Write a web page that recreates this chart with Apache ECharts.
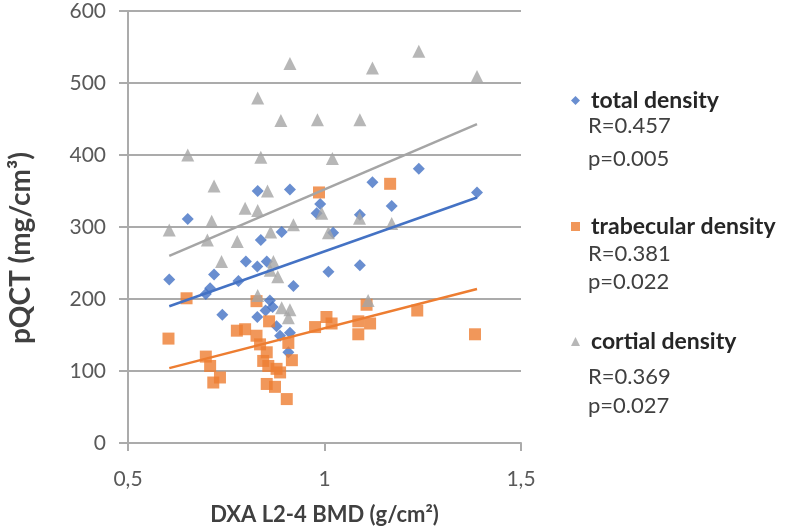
<!DOCTYPE html>
<html>
<head>
<meta charset="utf-8">
<script src="https://cdn.jsdelivr.net/npm/echarts@6/dist/echarts.min.js"></script>
<style>
  html, body { margin: 0; padding: 0; background: #fff; }
  #chart { width: 787px; height: 531px; }
</style>
</head>
<body>
<div id="chart"></div>
<script>
// total density (blue diamonds)
const totalX = [0.605, 0.652, 0.698, 0.709, 0.719, 0.740, 0.781, 0.800, 0.830, 0.829, 0.838, 0.829, 0.853, 0.861, 0.868, 0.850, 0.878,
  0.891, 0.887, 0.912, 0.921, 0.912, 0.908, 0.989, 0.980, 1.010, 1.022, 1.090, 1.090, 1.122, 1.171, 1.240, 1.388];
const totalY = [227, 311, 207, 215, 234, 178, 225, 252, 350, 245, 282, 175, 252, 198, 189, 184, 162,
  293, 149, 352, 218, 153, 126, 332, 319, 238, 292, 247, 317, 362, 329, 381, 348];

// trabecular density (orange squares)
const trabX = [0.603, 0.649, 0.698, 0.709, 0.717, 0.734, 0.777, 0.798, 0.827, 0.827, 0.836, 0.844, 0.853, 0.857, 0.853, 0.859, 0.874,
  0.878, 0.887, 0.904, 0.908, 0.917, 0.976, 1.005, 1.018, 0.986, 1.086, 1.086, 1.116, 1.107, 1.167, 1.236, 1.383];
const trabY = [145, 201, 120, 107, 84, 91, 156, 158, 197, 149, 137, 114, 126, 107, 82, 169, 78,
  103, 98, 61, 139, 115, 161, 175, 166, 348, 169, 151, 166, 192, 360, 184, 151];

// cortial density (gray triangles)
const cortX = [0.605, 0.652, 0.702, 0.713, 0.719, 0.738, 0.778, 0.798, 0.830, 0.830, 0.838, 0.855, 0.862, 0.863, 0.870, 0.881, 0.830,
  0.891, 0.912, 0.908, 0.889, 0.912, 0.921, 0.982, 0.993, 1.020, 1.010, 1.090, 1.089, 1.111, 1.122, 1.171, 1.240, 1.388];
const cortY = [296, 400, 282, 308, 357, 252, 280, 326, 323, 479, 397, 350, 240, 293, 252, 231, 205,
  188, 185, 174, 448, 527, 303, 449, 319, 395, 292, 449, 312, 198, 521, 305, 544, 509];

// trend line end points
const trendX = [0.605, 1.388];
const totalTrend = [190, 341];
const trabTrend = [104, 214];
const cortTrend = [260, 443];

const seriesNames = ['total density', 'trabecular density', 'cortial density'];
const statLines = [['R=0.457', 'p=0.005'], ['R=0.381', 'p=0.022'], ['R=0.369', 'p=0.027']];
const colors = ['#4472C4', '#ED7D31', '#A5A5A5'];

const pairs = (xs, ys) => xs.map((x, i) => [x, ys[i]]);

const chart = echarts.init(document.getElementById('chart'));

const FONT = 'Lato, "Open Sans", sans-serif';
const gridColor = '#ababab';

// one legend per series so the R / p lines can sit under each name
const legendTops = [99, 225, 340];
const legendIcons = ['diamond', 'rect', 'triangle'];
const legends = seriesNames.map((name, i) => ({
  left: 566,
  top: legendTops[i] - 15,
  itemWidth: 9,
  itemHeight: 9,
  selectedMode: false,
  data: [{ name: name, icon: legendIcons[i] }],
  textStyle: { fontFamily: FONT, fontSize: 23, fontWeight: 'bold', color: '#262626', padding: [0, 0, 0, 6] }
}));

const statTops = [[127, 160], [255, 283], [378, 407]];
const statTexts = [];
statLines.forEach((lines, i) => {
  lines.forEach((t, j) => {
    statTexts.push({
      type: 'text',
      left: 588,
      top: statTops[i][j] - 12,
      style: { text: t, fontFamily: FONT, fontSize: 22, fill: '#404040' }
    });
  });
});

const option = {
  animation: false,
  backgroundColor: '#fff',
  grid: { left: 128, top: 11, width: 393, height: 435 },
  legend: legends,
  xAxis: {
    type: 'value',
    min: 0.5,
    max: 1.5,
    interval: 0.5,
    name: 'DXA L2-4 BMD (g/cm²)',
    nameLocation: 'middle',
    nameGap: 61,
    nameTextStyle: { fontFamily: FONT, fontSize: 22, fontWeight: 'bold', color: '#404040' },
    axisLine: { show: true, lineStyle: { color: gridColor, width: 2 } },
    axisTick: { show: true, length: 8, lineStyle: { color: gridColor, width: 2 } },
    axisLabel: {
      margin: 26,
      fontFamily: FONT, fontSize: 21, color: '#595959',
      formatter: v => String(v).replace('.', ',')
    },
    splitLine: { show: false }
  },
  yAxis: {
    type: 'value',
    min: 0,
    max: 600,
    interval: 100,
    axisLine: { show: true, lineStyle: { color: gridColor, width: 2 } },
    axisTick: { show: true, length: 9, lineStyle: { color: gridColor, width: 2 } },
    axisLabel: { margin: 22, fontFamily: FONT, fontSize: 21, color: '#595959' },
    splitLine: { show: true, lineStyle: { color: gridColor, width: 2 } }
  },
  graphic: [
    {
      type: 'text',
      x: 21,
      y: 248,
      rotation: Math.PI / 2,
      style: {
        text: 'pQCT (mg/cm³)',
        fontFamily: FONT, fontSize: 28, fontWeight: 'bold', fill: '#404040',
        textAlign: 'center', textVerticalAlign: 'middle'
      }
    }
  ].concat(statTexts),
  series: [
    {
      name: seriesNames[0], type: 'scatter', symbol: 'diamond', symbolSize: 12,
      itemStyle: { color: colors[0] }, data: pairs(totalX, totalY), z: 2
    },
    {
      name: seriesNames[1], type: 'scatter', symbol: 'rect', symbolSize: 12,
      itemStyle: { color: colors[1] }, data: pairs(trabX, trabY), z: 3
    },
    {
      name: seriesNames[2], type: 'scatter', symbol: 'triangle', symbolSize: 13,
      itemStyle: { color: colors[2] }, data: pairs(cortX, cortY), z: 4
    },
    {
      type: 'line', symbol: 'none', data: pairs(trendX, totalTrend), z: 5,
      lineStyle: { color: colors[0], width: 2.5 }, silent: true
    },
    {
      type: 'line', symbol: 'none', data: pairs(trendX, trabTrend), z: 5,
      lineStyle: { color: colors[1], width: 2.5 }, silent: true
    },
    {
      type: 'line', symbol: 'none', data: pairs(trendX, cortTrend), z: 5,
      lineStyle: { color: colors[2], width: 2.5 }, silent: true
    }
  ]
};

chart.setOption(option);
</script>
</body>
</html>
